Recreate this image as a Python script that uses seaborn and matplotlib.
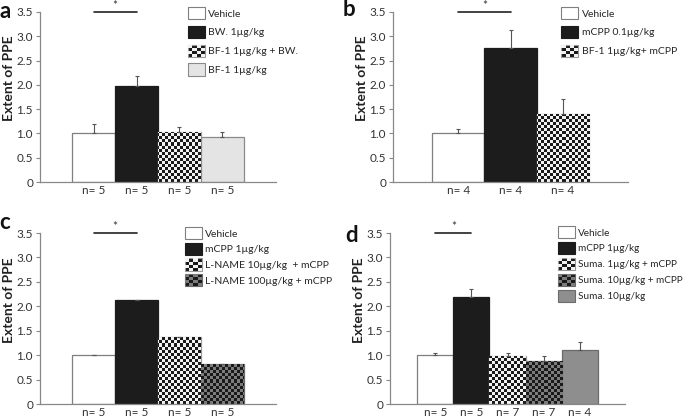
import numpy as np
import pandas as pd
import matplotlib
matplotlib.use('Agg')
import matplotlib.pyplot as plt
from matplotlib.colors import ListedColormap
from matplotlib.patches import Rectangle, Patch
from matplotlib.legend_handler import HandlerBase
import seaborn as sns

# panel a
a_labels = ['Vehicle', 'BW. 1µg/kg', 'BF-1 1µg/kg + BW.', 'BF-1 1µg/kg']
a_values = [1.0, 1.97, 1.03, 0.93]
a_err = [0.20, 0.21, 0.10, 0.10]
a_n = ['n= 5', 'n= 5', 'n= 5', 'n= 5']

# panel b
b_labels = ['Vehicle', 'mCPP 0.1µg/kg', 'BF-1 1µg/kg+ mCPP']
b_values = [1.0, 2.75, 1.41]
b_err = [0.10, 0.38, 0.29]
b_n = ['n= 4', 'n= 4', 'n= 4']

# panel c
c_labels = ['Vehicle', 'mCPP 1µg/kg', 'L-NAME 10µg/kg  + mCPP', 'L-NAME 100µg/kg + mCPP']
c_values = [1.0, 2.12, 1.38, 0.82]
c_err = [0.005, 0.01, 0.0, 0.0]
c_n = ['n= 5', 'n= 5', 'n= 5', 'n= 5']

# panel d
d_labels = ['Vehicle', 'mCPP 1µg/kg', 'Suma. 1µg/kg + mCPP', 'Suma. 10µg/kg + mCPP', 'Suma. 10µg/kg']
d_values = [1.0, 2.18, 0.99, 0.88, 1.10]
d_err = [0.05, 0.18, 0.06, 0.10, 0.16]
d_n = ['n= 5', 'n= 5', 'n= 7', 'n= 7', 'n= 4']

# fill styles: plain colour or checker (two colours)
WHITE = ('solid', '#ffffff', '#7f7f7f')
BLACK = ('solid', '#1c1c1c', '#1c1c1c')
CHECK = ('check', ('#1a1a1a', '#f2f2f2'), '#9a9a9a')
CHECK2 = ('check', ('#1a1a1a', '#7c7c7c'), '#6a6a6a')
LGRAY = ('solid', '#e4e4e4', '#8a8a8a')
MGRAY = ('solid', '#8e8e8e', '#6b6b6b')

a_styles = [WHITE, BLACK, CHECK, LGRAY]
b_styles = [WHITE, BLACK, CHECK]
c_styles = [WHITE, BLACK, CHECK, CHECK2]
d_styles = [WHITE, BLACK, CHECK, CHECK2, MGRAY]

sns.set_style('ticks')
plt.rcParams['font.family'] = ['Lato', 'DejaVu Sans']

W, H = 685, 419
fig = plt.figure(figsize=(W / 100, H / 100), dpi=100)


class HandlerChecker(HandlerBase):
    def __init__(self, colors, edge):
        super().__init__()
        self.colors = colors
        self.edge = edge

    def create_artists(self, legend, orig_handle, xdescent, ydescent, width, height, fontsize, trans):
        x0, y0 = -xdescent, -ydescent
        arts = [Rectangle((x0, y0), width, height, facecolor=self.colors[0],
                          edgecolor=self.edge, lw=0.8, transform=trans)]
        k = 4
        cw, ch = width / k, height / k
        for i in range(k):
            for j in range(k):
                if (i + j) % 2 == 1:
                    arts.append(Rectangle((x0 + i * cw, y0 + j * ch), cw, ch,
                                          facecolor=self.colors[1], lw=0, transform=trans))
        return arts


def panel(rect_px, labels, values, err, ns, styles, letter, letter_xy, leg_xy, leg_space, leg_fs=7.5):
    l, r, t, b = rect_px
    ax = fig.add_axes([l / W, 1 - b / H, (r - l) / W, (b - t) / H])
    df = pd.DataFrame({'group': labels, 'value': values})
    pal = {lab: (s[1] if s[0] == 'solid' else s[1][0]) for lab, s in zip(labels, styles)}
    sns.barplot(data=df, x='group', y='value', hue='group', palette=pal, order=labels,
                hue_order=labels, width=1.0, errorbar=None, legend=False, ax=ax, saturation=1)
    n = len(labels)

    # checker texture image covering whole axes, clipped to bars
    ncol = int(round((r - l) / 3.0))
    nrow = int(round((b - t) / 3.0))
    board = np.indices((nrow, ncol)).sum(axis=0) % 2

    bars = sorted(ax.patches, key=lambda p: p.get_x())
    xs = []
    for bar, s in zip(bars, styles):
        bar.set_edgecolor(s[2])
        bar.set_linewidth(0.9)
        xs.append(bar.get_x() + bar.get_width() / 2)
        if s[0] == 'check':
            im = ax.imshow(board, cmap=ListedColormap(list(s[1])), interpolation='nearest',
                           extent=(-1.25, n - 1 + 1.25, 0, 3.5), aspect='auto',
                           origin='lower', zorder=bar.get_zorder() + 0.1)
            im.set_clip_path(bar)
    ax.set_xlim(-1.25, n - 1 + 1.25)
    ax.set_ylim(0, 3.5)

    ax.errorbar(xs, values, yerr=[np.zeros(n), err], fmt='none', ecolor='#555555',
                elinewidth=0.8, capsize=1.5, capthick=0.8, zorder=5)

    # significance bar
    ax.plot([xs[0], xs[1]], [3.5, 3.5], color='#222222', lw=1.2, clip_on=False, zorder=6)
    ax.text((xs[0] + xs[1]) / 2, 3.52, '*', ha='center', va='bottom', fontsize=8.5, color='#333333')

    ax.set_xticks(range(n))
    ax.set_xticklabels(ns)
    ax.tick_params(axis='x', length=0, pad=2.5, labelsize=8.5, colors='#333333')
    ax.set_yticks(np.arange(0, 3.51, 0.5))
    ax.set_yticklabels(['0'] + ['%.1f' % v for v in np.arange(0.5, 3.51, 0.5)])
    ax.tick_params(axis='y', length=3, width=0.8, pad=2, labelsize=8.5, color='#888888',
                   labelcolor='#333333')
    ax.set_xlabel('')
    ax.set_ylabel('Extent of PPE', fontsize=10, fontweight='bold', color='#222222')
    ax.yaxis.set_label_coords(-0.105, 0.61)
    sns.despine(ax=ax)
    for sp in ['left', 'bottom']:
        ax.spines[sp].set_color('#888888')
        ax.spines[sp].set_linewidth(0.9)

    # legend
    handles, hmap = [], {}
    for lab, s in zip(labels, styles):
        h = Patch(facecolor=(s[1] if s[0] == 'solid' else s[1][0]), edgecolor=s[2], lw=0.8)
        if s[0] == 'check':
            hmap[h] = HandlerChecker(s[1], s[2])
        handles.append(h)
    ax.legend(handles, labels, handler_map=hmap, loc='upper left', bbox_to_anchor=leg_xy,
              frameon=False, fontsize=leg_fs, handlelength=1.65 * 7.5 / leg_fs,
              handleheight=1.45 * 7.5 / leg_fs, labelspacing=leg_space,
              handletextpad=0.3, borderaxespad=0, borderpad=0)

    fig.text(letter_xy[0] / W, 1 - letter_xy[1] / H, letter, fontsize=16, fontweight='bold',
             ha='left', va='top', color='#111111')
    return ax


panel((40, 276, 12, 182), a_labels, a_values, a_err, a_n, a_styles, 'a', (-1, 1),
      (0.627, 1.03), 0.62)
panel((393, 628, 12, 182), b_labels, b_values, b_err, b_n, b_styles, 'b', (343, -1),
      (0.716, 1.03), 0.62)
panel((40, 276, 233, 404), c_labels, c_values, c_err, c_n, c_styles, 'c', (-1, 212),
      (0.614, 1.035), 0.32)
panel((390, 625, 233, 404), d_labels, d_values, d_err, d_n, d_styles, 'd', (345, 225),
      (0.715, 1.04), 0.36, 7.2)

fig.savefig('out.png', dpi=100)
